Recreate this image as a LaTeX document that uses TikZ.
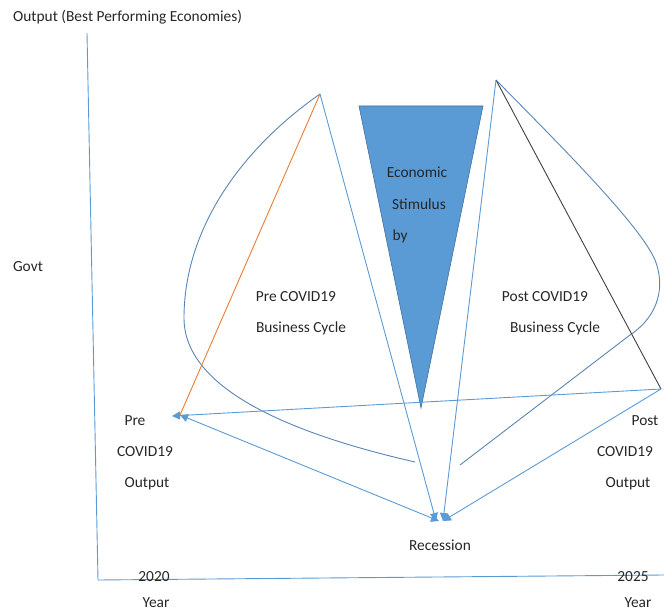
\documentclass[tikz,border=0pt]{standalone}
\usepackage{fontspec}
\setmainfont{Carlito}
\usetikzlibrary{arrows.meta}
\definecolor{lblue}{RGB}{91,155,213}
\definecolor{cblue}{RGB}{92,132,178}
\definecolor{orng}{RGB}{237,125,49}
\definecolor{tfill}{RGB}{91,155,213}
\definecolor{tedge}{RGB}{65,113,156}
\tikzset{
  lbl/.style={font=\fontsize{15.4}{17}\selectfont, inner sep=0pt, text=black!85},
  bl/.style={draw=lblue, line width=0.9pt},
  arr/.style={-{Triangle[width=8pt,length=8pt]}},
  curve/.style={draw=cblue, line width=0.9pt},
}
\begin{document}
\begin{tikzpicture}[x=1pt,y=-1pt]
\useasboundingbox (0,0) rectangle (664,612);
% coordinates
\coordinate (prepeak) at (320,94);
\coordinate (postpeak) at (496,80);
\coordinate (preout) at (180,415);
\coordinate (preouttip) at (172,416);
\coordinate (postout) at (661,389);
\coordinate (recL) at (436,521);
\coordinate (recM) at (439,521);
\coordinate (recR) at (443,521);
\coordinate (yaxtop) at (87,33);
\coordinate (origin) at (98,580);
\coordinate (xaxend) at (664,575);
\coordinate (lcend) at (415,462);
\coordinate (rcend) at (460,465);
% axes
\draw[bl] (yaxtop) -- (origin) -- (xaxend);
% triangle
\draw[draw=tedge, fill=tfill, line width=0.6pt] (359,106) -- (483,106) -- (421,408) -- cycle;
% curves
\draw[curve] (prepeak) .. controls (240,150) and (184,230) .. (184,318)
  .. controls (184,395) and (310,438) .. (lcend);
\draw[curve] (postpeak) .. controls (560,145) and (640,225) .. (655,260)
  .. controls (665,285) and (660,315) .. (630,335) -- (rcend);
% orange
\draw[draw=orng, line width=0.9pt] (prepeak) -- (preout);
% black
\draw[draw=black!75, line width=0.9pt] (postpeak) -- (postout);
% blue lines
\draw[bl, arr] (prepeak) -- (recL);
\draw[bl, arr] (postpeak) -- (recR);
\draw[bl, arr] (postout) -- (preouttip);
\draw[bl, {Triangle[width=8pt,length=8pt]}-{Triangle[width=8pt,length=8pt]}] (preout) -- (recM);
\draw[bl, arr] (postout) -- (recR);
% texts
\node[lbl, anchor=west] (ttl) at (13,17) {Output (Best Performing Economies)};
\node[lbl] (govt) at (28,267) {Govt};
\node[lbl] (econ) at (417,172) {Economic};
\node[lbl] (stim) at (419,204) {Stimulus};
\node[lbl] (by) at (400,236) {by};
\node[lbl] (precyc1) at (296,297) {Pre COVID19};
\node[lbl] (precyc2) at (301,328) {Business Cycle};
\node[lbl] (postcyc1) at (545,297) {Post COVID19};
\node[lbl] (postcyc2) at (555,328) {Business Cycle};
\node[lbl] (pre1) at (135,421) {Pre};
\node[lbl] (pre2) at (145,452) {COVID19};
\node[lbl] (pre3) at (147,484) {Output};
\node[lbl] (post1) at (645,421) {Post};
\node[lbl] (post2) at (625,452) {COVID19};
\node[lbl] (post3) at (628,484) {Output};
\node[lbl] (rec) at (440,545) {Recession};
\node[lbl] (y1) at (154,577) {2020};
\node[lbl] (yl1) at (156,603) {Year};
\node[lbl] (y2) at (633,577) {2025};
\node[lbl] (yl2) at (638,603) {Year};
\end{tikzpicture}
\end{document}
